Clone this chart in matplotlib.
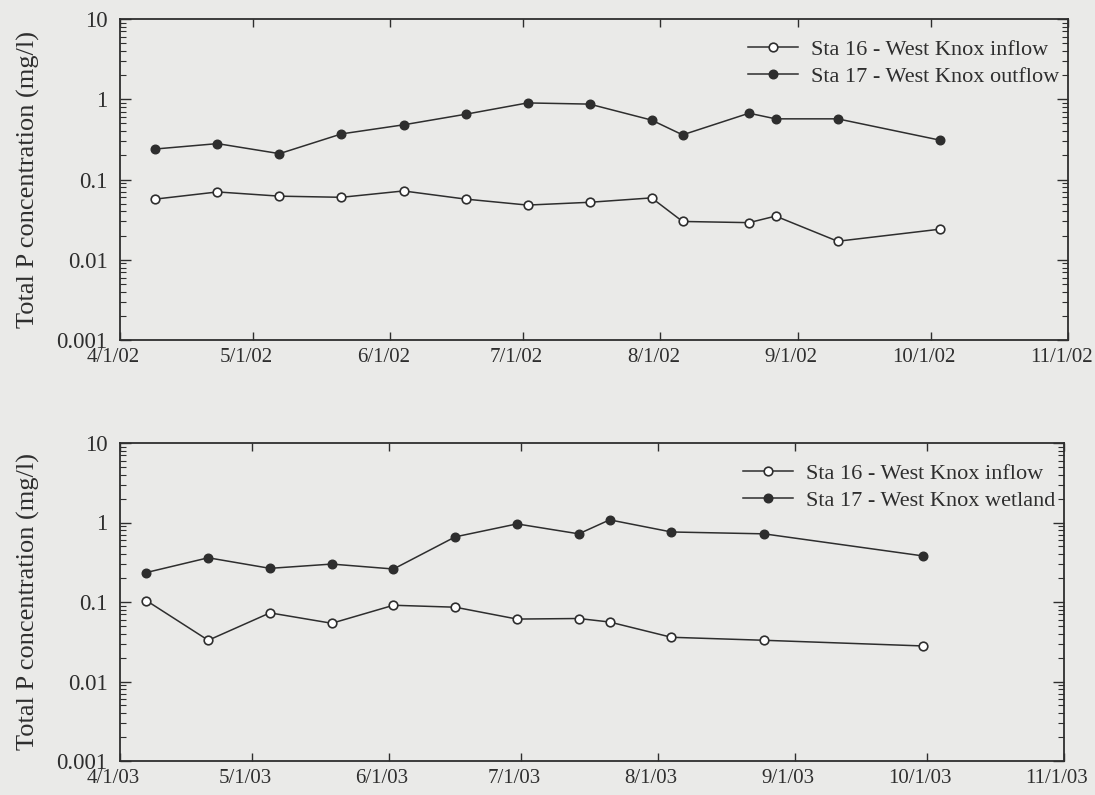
import pandas as pd
import matplotlib
matplotlib.use("Agg")
import matplotlib.pyplot as plt
import matplotlib.dates as mdates
from matplotlib.ticker import LogLocator, FuncFormatter, NullFormatter
from matplotlib.transforms import ScaledTranslation

# 2002 sampling: West Knox inflow (Sta 16) and outflow (Sta 17)
dates_2002 = ["2002-04-09", "2002-04-23", "2002-05-07", "2002-05-21", "2002-06-04",
              "2002-06-18", "2002-07-02", "2002-07-16", "2002-07-30", "2002-08-06",
              "2002-08-21", "2002-08-27", "2002-09-10", "2002-10-03"]
inflow_2002 = [0.057, 0.070, 0.062, 0.060, 0.072, 0.057, 0.048, 0.052, 0.059,
               0.030, 0.029, 0.035, 0.017, 0.024]
outflow_2002 = [0.24, 0.28, 0.21, 0.37, 0.48, 0.65, 0.90, 0.87, 0.55, 0.36,
                0.67, 0.57, 0.57, 0.31]

# 2003 sampling: inflow (Sta 16) and wetland (Sta 17)
dates_2003 = ["2003-04-07", "2003-04-21", "2003-05-05", "2003-05-19", "2003-06-02",
              "2003-06-16", "2003-06-30", "2003-07-14", "2003-07-21", "2003-08-04",
              "2003-08-25", "2003-09-30"]
inflow_2003 = [0.104, 0.033, 0.073, 0.054, 0.091, 0.086, 0.061, 0.062, 0.056,
               0.036, 0.033, 0.028]
wetland_2003 = [0.235, 0.36, 0.265, 0.30, 0.26, 0.66, 0.96, 0.72, 1.08, 0.76,
                0.72, 0.38]

bg = "#eaeae8"
ink = "#2e2e2e"
plt.rcParams["font.family"] = ["Liberation Serif", "DejaVu Serif"]
plt.rcParams["text.color"] = ink
plt.rcParams["axes.labelcolor"] = ink
plt.rcParams["xtick.color"] = ink
plt.rcParams["ytick.color"] = ink

fig = plt.figure(figsize=(10.95, 7.95), dpi=100, facecolor=bg)
ax1 = fig.add_axes([120 / 1095, 1 - 340 / 795, 948 / 1095, 321 / 795])
ax2 = fig.add_axes([120 / 1095, 1 - 761 / 795, 944 / 1095, 318 / 795])


def date_fmt(x, pos):
    d = mdates.num2date(x)
    return f"{d.month}/{d.day}/{d.year % 100:02d}"


def style_panel(ax, year, dates, inflow, other, other_label):
    d = pd.to_datetime(dates)
    ax.set_facecolor(bg)
    ax.plot(d, inflow, color=ink, lw=1.1, marker="o", ms=6.2, mfc="white",
            mec=ink, mew=1.2, label="Sta 16 - West Knox inflow")
    ax.plot(d, other, color=ink, lw=1.1, marker="o", ms=6.2, mfc=ink,
            mec=ink, label=other_label)
    ax.set_yscale("log")
    ax.set_ylim(0.001, 10)
    ax.set_xlim(pd.Timestamp(f"{year}-04-01"), pd.Timestamp(f"{year}-11-01"))
    ax.xaxis.set_major_locator(mdates.MonthLocator())
    ax.xaxis.set_major_formatter(FuncFormatter(date_fmt))
    ax.yaxis.set_major_locator(LogLocator(base=10, numticks=10))
    ax.yaxis.set_minor_locator(LogLocator(base=10, subs=range(2, 10), numticks=20))
    ax.yaxis.set_major_formatter(FuncFormatter(lambda v, p: f"{v:g}"))
    ax.yaxis.set_minor_formatter(NullFormatter())
    ax.tick_params(axis="x", which="major", direction="in", top=True,
                   length=6, width=1, labelsize=15, pad=6)
    ax.tick_params(axis="y", which="major", direction="in", right=True,
                   length=8, width=1, labelsize=16.5, pad=9)
    ax.tick_params(axis="y", which="minor", direction="in", right=True,
                   length=4, width=0.8)
    # labels in the original sit a little left of their ticks
    shift = ScaledTranslation(-7 / 100, 0, fig.dpi_scale_trans)
    for lab in ax.get_xticklabels():
        lab.set_transform(lab.get_transform() + shift)
    for s in ax.spines.values():
        s.set_color(ink)
        s.set_linewidth(1.3)
    ax.set_ylabel("Total P concentration (mg/l)", fontsize=19)
    ax.yaxis.set_label_coords(-80 / 948, 0.5)
    ax.legend(loc="upper right", bbox_to_anchor=(1.0, 0.965), frameon=False,
              fontsize=16, handlelength=2.25, handletextpad=0.6,
              labelspacing=0.3, borderaxespad=0.0)


style_panel(ax1, 2002, dates_2002, inflow_2002, outflow_2002,
            "Sta 17 - West Knox outflow")
style_panel(ax2, 2003, dates_2003, inflow_2003, wetland_2003,
            "Sta 17 - West Knox wetland")

fig.savefig("out.png", dpi=100, facecolor=bg)
